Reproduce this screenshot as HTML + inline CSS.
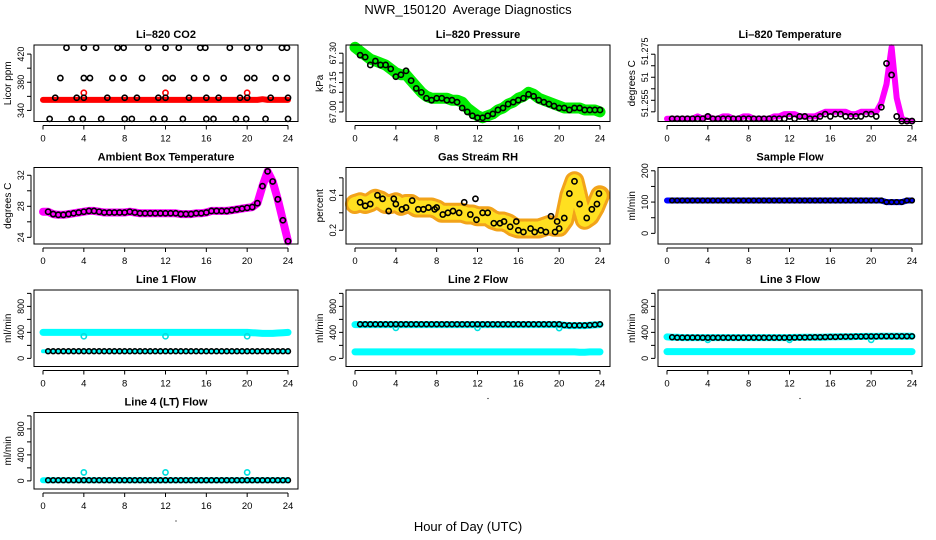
<!DOCTYPE html>
<html><head><meta charset="utf-8">
<style>
html,body{margin:0;padding:0;background:#fff;}
svg{display:block;font-family:"Liberation Sans",sans-serif;}
</style></head>
<body>
<svg id="chart" width="936" height="540" viewBox="0 0 936 540">
<text x="468" y="14" font-size="13" text-anchor="middle">NWR_150120&#160; Average Diagnostics</text>
<text x="468" y="531" font-size="13" text-anchor="middle">Hour of Day (UTC)</text>
</svg>
<script>
// ---- data (times: band 0..24 step 0.5, black points 0.5..24 step 0.5) ----
const xTicks = [0,4,8,12,16,20,24];
const xTickLabels = ["0","4","8","12","16","20","24"];

// CO2
const co2Band = [355,355,355,355,355,355,355,355,355,355,355,355,355,355,355,355,355,355,355,355,355,355,355,355,355,355,355,355,355,355,355,355,355,355,355,355,355,355,355,355,355,355,355,356,355,355,355,355,355];
const co2TopT = [2.3,4.0,5.2,7.3,7.9,10.3,12.0,13.3,15.4,15.9,18.3,20.0,21.2,23.4,23.9];
const co2MidT = [1.7,4.0,4.6,6.8,7.9,9.7,12.0,12.7,14.8,16.0,17.7,20.0,20.7,22.8,23.9];
const co2LowT = [1.2,3.3,4.0,6.3,8.0,9.2,11.3,12.0,14.3,16.0,17.2,19.3,20.0,22.3,24.0];
const co2BotT = [0.65,2.8,3.9,5.7,8.0,8.7,10.8,11.9,13.7,16.0,16.7,18.9,19.9,21.8,24.0];
const co2Levels = [429,386,358,328];
const co2RedT = [4,12,20];
const co2RedV = [365,365,365];

// Pressure
const presBand = [67.33,67.31,67.29,67.27,67.26,67.25,67.24,67.22,67.20,67.19,67.19,67.16,67.13,67.10,67.08,67.07,67.07,67.07,67.07,67.06,67.06,67.05,67.02,67.00,66.98,66.97,66.98,66.99,67.01,67.02,67.04,67.05,67.07,67.08,67.10,67.09,67.07,67.06,67.05,67.04,67.03,67.02,67.02,67.02,67.02,67.01,67.01,67.01,67.00];
const presPts = [67.29,67.28,67.24,67.26,67.24,67.24,67.22,67.18,67.19,67.21,67.16,67.12,67.10,67.07,67.06,67.07,67.07,67.06,67.06,67.05,67.02,67.00,66.98,66.97,66.97,66.98,66.99,67.01,67.02,67.04,67.05,67.06,67.07,67.09,67.08,67.06,67.05,67.04,67.03,67.02,67.02,67.01,67.02,67.02,67.01,67.01,67.01,67.01];

// Li-820 temperature
const ltBand = [51.247,51.247,51.247,51.247,51.247,51.247,51.248,51.247,51.248,51.247,51.247,51.248,51.248,51.247,51.247,51.248,51.248,51.247,51.247,51.247,51.247,51.248,51.248,51.249,51.249,51.249,51.248,51.248,51.248,51.248,51.249,51.250,51.250,51.250,51.250,51.250,51.249,51.249,51.250,51.250,51.250,51.250,51.254,51.262,51.278,51.256,51.247,51.246,51.246];
const ltPts = [51.247,51.247,51.247,51.247,51.247,51.247,51.247,51.248,51.247,51.247,51.247,51.247,51.247,51.247,51.247,51.247,51.247,51.247,51.247,51.247,51.247,51.247,51.247,51.248,51.247,51.248,51.248,51.247,51.247,51.248,51.249,51.248,51.249,51.249,51.248,51.248,51.248,51.248,51.249,51.249,51.248,51.252,51.271,51.266,51.248,51.246,51.246,51.246];

// Ambient box temperature
const ambBand = [27.3,27.3,27.0,26.9,26.9,27.0,27.1,27.2,27.3,27.4,27.4,27.3,27.2,27.2,27.2,27.2,27.2,27.3,27.2,27.1,27.1,27.1,27.1,27.1,27.1,27.1,27.1,27.0,27.0,27.0,27.1,27.1,27.2,27.4,27.4,27.4,27.4,27.5,27.6,27.7,27.8,27.9,28.4,30.6,32.5,31.2,28.9,26.2,23.5];

// Gas stream RH
const rhBand = [0.35,0.36,0.35,0.36,0.38,0.37,0.35,0.35,0.36,0.34,0.35,0.35,0.33,0.33,0.33,0.33,0.32,0.30,0.30,0.30,0.30,0.30,0.29,0.29,0.28,0.28,0.28,0.26,0.25,0.25,0.24,0.22,0.21,0.21,0.21,0.21,0.21,0.22,0.23,0.22,0.22,0.26,0.40,0.48,0.36,0.26,0.28,0.33,0.40];
const rhPtT = [0.5,1,1.5,2.2,2.7,3.3,3.8,4,4.6,5,5.6,6.2,6.7,7.2,7.8,8,8.6,9.1,9.6,10.2,10.7,11.3,11.8,11.9,12.5,13,13.6,14.2,14.6,15.2,15.8,16,16.5,17.2,17.6,18.2,18.7,19.2,19.6,19.8,20,20.5,21,21.5,22,22.7,23.2,23.7,23.9];
const rhPtV = [0.36,0.34,0.35,0.40,0.38,0.31,0.38,0.35,0.32,0.33,0.37,0.32,0.32,0.33,0.32,0.33,0.29,0.30,0.31,0.30,0.36,0.29,0.38,0.26,0.30,0.30,0.24,0.24,0.25,0.22,0.25,0.20,0.19,0.21,0.19,0.20,0.19,0.28,0.19,0.25,0.21,0.27,0.41,0.48,0.35,0.27,0.32,0.35,0.41];

// Sample flow
const sfBand = [105,105,105,105,105,105,105,105,105,105,105,105,105,105,105,105,105,105,105,105,105,105,105,105,105,105,105,105,105,105,105,105,105,105,105,105,105,105,105,105,105,105,105,100,100,100,100,105,105];

// Line flows
const l1Cyan = [400,400,400,400,400,400,400,400,400,400,400,400,400,400,400,400,400,400,400,400,400,400,400,400,400,400,400,400,400,400,400,400,400,400,400,400,400,400,400,400,400,395,390,385,385,385,390,395,400];
const l1Black = [110,110,110,110,110,110,110,110,110,110,110,110,110,110,110,110,110,110,110,110,110,110,110,110,110,110,110,110,110,110,110,110,110,110,110,110,110,110,110,110,110,110,110,110,110,110,110,110,110];
const l1OutT = [4,12,20];
const l1OutV = [340,340,340];

const l2CyanHi = [520,520,520,520,520,520,520,520,520,520,520,520,520,520,520,520,520,520,520,520,520,520,520,520,520,520,520,520,520,520,520,520,520,520,520,520,520,520,520,520,520,510,505,505,505,505,510,515,520];
const l2CyanLo = [100,100,100,100,100,100,100,100,100,100,100,100,100,100,100,100,100,100,100,100,100,100,100,100,100,100,100,100,100,100,100,100,100,100,100,100,100,100,100,100,100,100,100,100,95,95,100,100,100];
const l2Black = [525,525,525,525,525,525,525,525,525,525,525,525,525,525,525,525,525,525,525,525,525,525,525,525,525,525,525,525,525,525,525,525,525,525,525,525,525,525,525,525,525,512,508,508,508,508,512,518,525];
const l2OutT = [4,12,20];
const l2OutV = [470,470,465];

const l3CyanHi = [330,325,325,320,320,320,320,320,320,320,320,320,320,320,320,320,320,320,320,320,320,320,320,320,320,322,322,324,324,326,326,328,330,330,332,334,334,336,336,338,338,338,340,340,340,340,340,340,340];
const l3CyanLo = [105,105,105,105,105,105,105,105,105,105,105,105,105,105,105,105,105,105,105,105,105,105,105,105,105,105,105,105,105,105,105,105,105,105,105,105,105,105,105,105,105,105,105,105,105,105,105,105,105];
const l3Black = [325,325,320,320,320,320,320,318,318,318,318,318,318,318,318,318,318,318,318,318,318,318,318,318,320,320,322,322,324,326,326,328,330,330,332,334,334,336,336,338,338,338,340,340,340,340,340,340,340];
const l3OutT = [4,12,20];
const l3OutV = [285,285,285];

const l4Cyan = [10,10,10,10,10,10,10,10,10,10,10,10,10,10,10,10,10,10,10,10,10,10,10,10,10,10,10,10,10,10,10,10,10,10,10,10,10,10,10,10,10,10,10,10,10,10,10,10,10];
const l4Black = [10,10,10,10,10,10,10,10,10,10,10,10,10,10,10,10,10,10,10,10,10,10,10,10,10,10,10,10,10,10,10,10,10,10,10,10,10,10,10,10,10,10,10,10,10,10,10,10,10];
const l4OutT = [4,12,20];
const l4OutV = [130,130,130];

// ---- drawing ----
const svg = document.getElementById('chart');
const NS = 'http://www.w3.org/2000/svg';
function mk(tag, attrs, parent){
  const e = document.createElementNS(NS, tag);
  for (const k in attrs) e.setAttribute(k, attrs[k]);
  (parent||svg).appendChild(e);
  return e;
}
const bandTimes = Array.from({length:49},(_, i)=>i*0.5);
const ptTimes = Array.from({length:48},(_, i)=>0.5+i*0.5);

function makePanel(col,row,name,title,ylab,ylim,yticks,ylabels){
  const ox = 312*col, oy = 20 + 122.5*row;
  const L = ox+34, R = ox+298, T = oy+25, B = oy+101.5;
  const g = mk('g',{});
  
  
  const sx = t => ox + 43 + t*(245/24);
  const sy = v => B - (v-ylim[0])/(ylim[1]-ylim[0])*(B-T);
  const tt = mk('text',{x:(L+R)/2, y:oy+18, 'font-size':11, 'font-weight':'bold','text-anchor':'middle'}, g);
  tt.textContent = title;
  
  
  const yl = mk('text',{x:0,y:0,'font-size':10,'text-anchor':'middle',transform:`translate(${ox+11},${(T+B)/2}) rotate(-90)`}, g);
  yl.textContent = ylab;
  
  
  const xa = mk('g',{stroke:'#000','stroke-width':1}, g);
  
  
  mk('line',{x1:sx(0),x2:sx(24),y1:B+4,y2:B+4}, xa);
  xTicks.forEach((t,i)=>{
    mk('line',{x1:sx(t),x2:sx(t),y1:B+4,y2:B+8}, xa);
    const lb = mk('text',{x:sx(t),y:B+20,'font-size':9.5,'text-anchor':'middle',stroke:'none'}, xa);
    lb.textContent = xTickLabels[i];
    
    
  });
  mk('circle',{cx:ox+176,cy:B+32,r:0.6,fill:'#000',stroke:'none'}, xa);
  const ya = mk('g',{stroke:'#000','stroke-width':1}, g);
  
  
  mk('line',{x1:L-3,x2:L-3,y1:sy(yticks[0]),y2:sy(yticks[yticks.length-1])}, ya);
  yticks.forEach(v=>{ mk('line',{x1:L-3,x2:L-7,y1:sy(v),y2:sy(v)}, ya); });
  ylabels.forEach(([v,s,dy])=>{
    const lb = mk('text',{x:0,y:0,'font-size':9,'text-anchor':'middle',stroke:'none',transform:`translate(${ox+24},${sy(v)+(dy||0)}) rotate(-90)`}, ya);
    lb.textContent = s;
    
    
  });
  const plot = mk('g',{}, g);
  
  
  const box = mk('rect',{x:L,y:T,width:R-L,height:B-T,fill:'none',stroke:'#000','stroke-width':1}, g);
  
  
  return {sx, sy, plot};
}
function band(p, times, vals, color, w, label, dash){
  const pts = times.map((t,i)=>p.sx(t).toFixed(1)+','+p.sy(vals[i]).toFixed(1)).join(' ');
  const attrs = {points:pts, fill:'none', stroke:color,'stroke-width':w,'stroke-linejoin':'round','stroke-linecap':'round'};
  if (dash) attrs['stroke-dasharray'] = dash;
  const pl = mk('polyline',attrs, p.plot);
  
  
}
function circles(p, times, vals, color, label, r){
  const g = mk('g',{fill:'none',stroke:color,'stroke-width':1.6}, p.plot);
  
  
  times.forEach((t,i)=>{
    const c = mk('circle',{cx:p.sx(t),cy:p.sy(vals[i]),r:r||2.6}, g);
    
    
  });
}

const flowTicks = [0,200,400,600,800,1000];
const flowLabels = [[0,'0'],[400,'400'],[800,'800']];
const flowLim = [-125,1052];

let p = makePanel(0,0,'co2','Li\u2013820 CO2','Licor ppm',[324.3,432.9],[340,360,380,400,420],[[340,'340'],[380,'380'],[420,'420']]);
band(p, bandTimes, co2Band, '#ff0000', 6, 'co2-raw-series');
circles(p, co2RedT, co2RedV, '#ff0000', 'co2-red-outliers');
[co2TopT,co2MidT,co2LowT,co2BotT].forEach((ts,k)=>{
  circles(p, ts, ts.map(()=>co2Levels[k]), '#000', 'co2-average-points');
});

p = makePanel(1,0,'pressure','Li\u2013820 Pressure','kPa',[66.951,67.342],[67.00,67.05,67.10,67.15,67.20,67.25,67.30],[[67.00,'67.00'],[67.15,'67.15'],[67.30,'67.30']]);
band(p, bandTimes, presBand, '#00ee00', 11, 'pressure-raw-series');
circles(p, ptTimes, presPts, '#000', 'pressure-average-points');

p = makePanel(2,0,'li820-temp','Li\u2013820 Temperature','degrees C',[51.2458,51.279],[51.25,51.255,51.26,51.265,51.27,51.275],[[51.255,'51.255',3],[51.265,'51'],[51.275,'51.275',-3]]);
band(p, bandTimes, ltBand, '#ff00ff', 6, 'li820-temp-raw-series');
circles(p, ptTimes, ltPts, '#000', 'li820-temp-average-points');

p = makePanel(0,1,'ambient-temp','Ambient Box Temperature','degrees C',[23.14,33.0],[24,26,28,30,32],[[24,'24'],[28,'28'],[32,'32']]);
band(p, bandTimes, ambBand, '#ff00ff', 8, 'ambient-temp-raw-series');
circles(p, ptTimes, ambBand.slice(1), '#000', 'ambient-temp-average-points');

p = makePanel(1,1,'gas-rh','Gas Stream RH','percent',[0.1215,0.559],[0.2,0.3,0.4,0.5],[[0.2,'0.2'],[0.4,'0.4']]);
band(p, bandTimes, rhBand, '#f2a31a', 20, 'gas-rh-raw-series');
band(p, bandTimes, rhBand, '#ffe020', 14, 'gas-rh-raw-speckle', '1.5 2.5');
circles(p, rhPtT, rhPtV, '#000', 'gas-rh-average-points');

p = makePanel(2,1,'sample-flow','Sample Flow','ml/min',[-34,210.5],[0,50,100,150,200],[[0,'0'],[100,'100'],[200,'200']]);
band(p, bandTimes, sfBand, '#0000ff', 6, 'sample-flow-raw-series');
circles(p, ptTimes, sfBand.slice(1), '#000', 'sample-flow-average-points', 2.3);

p = makePanel(0,2,'line1-flow','Line 1 Flow','ml/min',flowLim,flowTicks,flowLabels);
band(p, bandTimes, l1Cyan, '#00ffff', 7, 'line1-flow-raw-series');
circles(p, l1OutT, l1OutV, '#00e0e0', 'line1-flow-outliers');
band(p, bandTimes, l1Black, '#00ffff', 4, 'line1-flow-raw-low');
circles(p, ptTimes, l1Black.slice(1), '#000', 'line1-flow-average-points', 2.4);

p = makePanel(1,2,'line2-flow','Line 2 Flow','ml/min',flowLim,flowTicks,flowLabels);
band(p, bandTimes, l2CyanHi, '#00ffff', 7, 'line2-flow-raw-high');
band(p, bandTimes, l2CyanLo, '#00ffff', 7, 'line2-flow-raw-low');
circles(p, l2OutT, l2OutV, '#00e0e0', 'line2-flow-outliers');
circles(p, ptTimes, l2Black.slice(1), '#000', 'line2-flow-average-points', 2.4);

p = makePanel(2,2,'line3-flow','Line 3 Flow','ml/min',flowLim,flowTicks,flowLabels);
band(p, bandTimes, l3CyanHi, '#00ffff', 7, 'line3-flow-raw-high');
band(p, bandTimes, l3CyanLo, '#00ffff', 7, 'line3-flow-raw-low');
circles(p, l3OutT, l3OutV, '#00e0e0', 'line3-flow-outliers');
circles(p, ptTimes, l3Black.slice(1), '#000', 'line3-flow-average-points', 2.4);

p = makePanel(0,3,'line4-flow','Line 4 (LT) Flow','ml/min',flowLim,flowTicks,flowLabels);
band(p, bandTimes, l4Cyan, '#00ffff', 6, 'line4-flow-raw-series');
circles(p, l4OutT, l4OutV, '#00e0e0', 'line4-flow-outliers');
circles(p, ptTimes, l4Black.slice(1), '#000', 'line4-flow-average-points', 2.4);
</script>
</body></html>
